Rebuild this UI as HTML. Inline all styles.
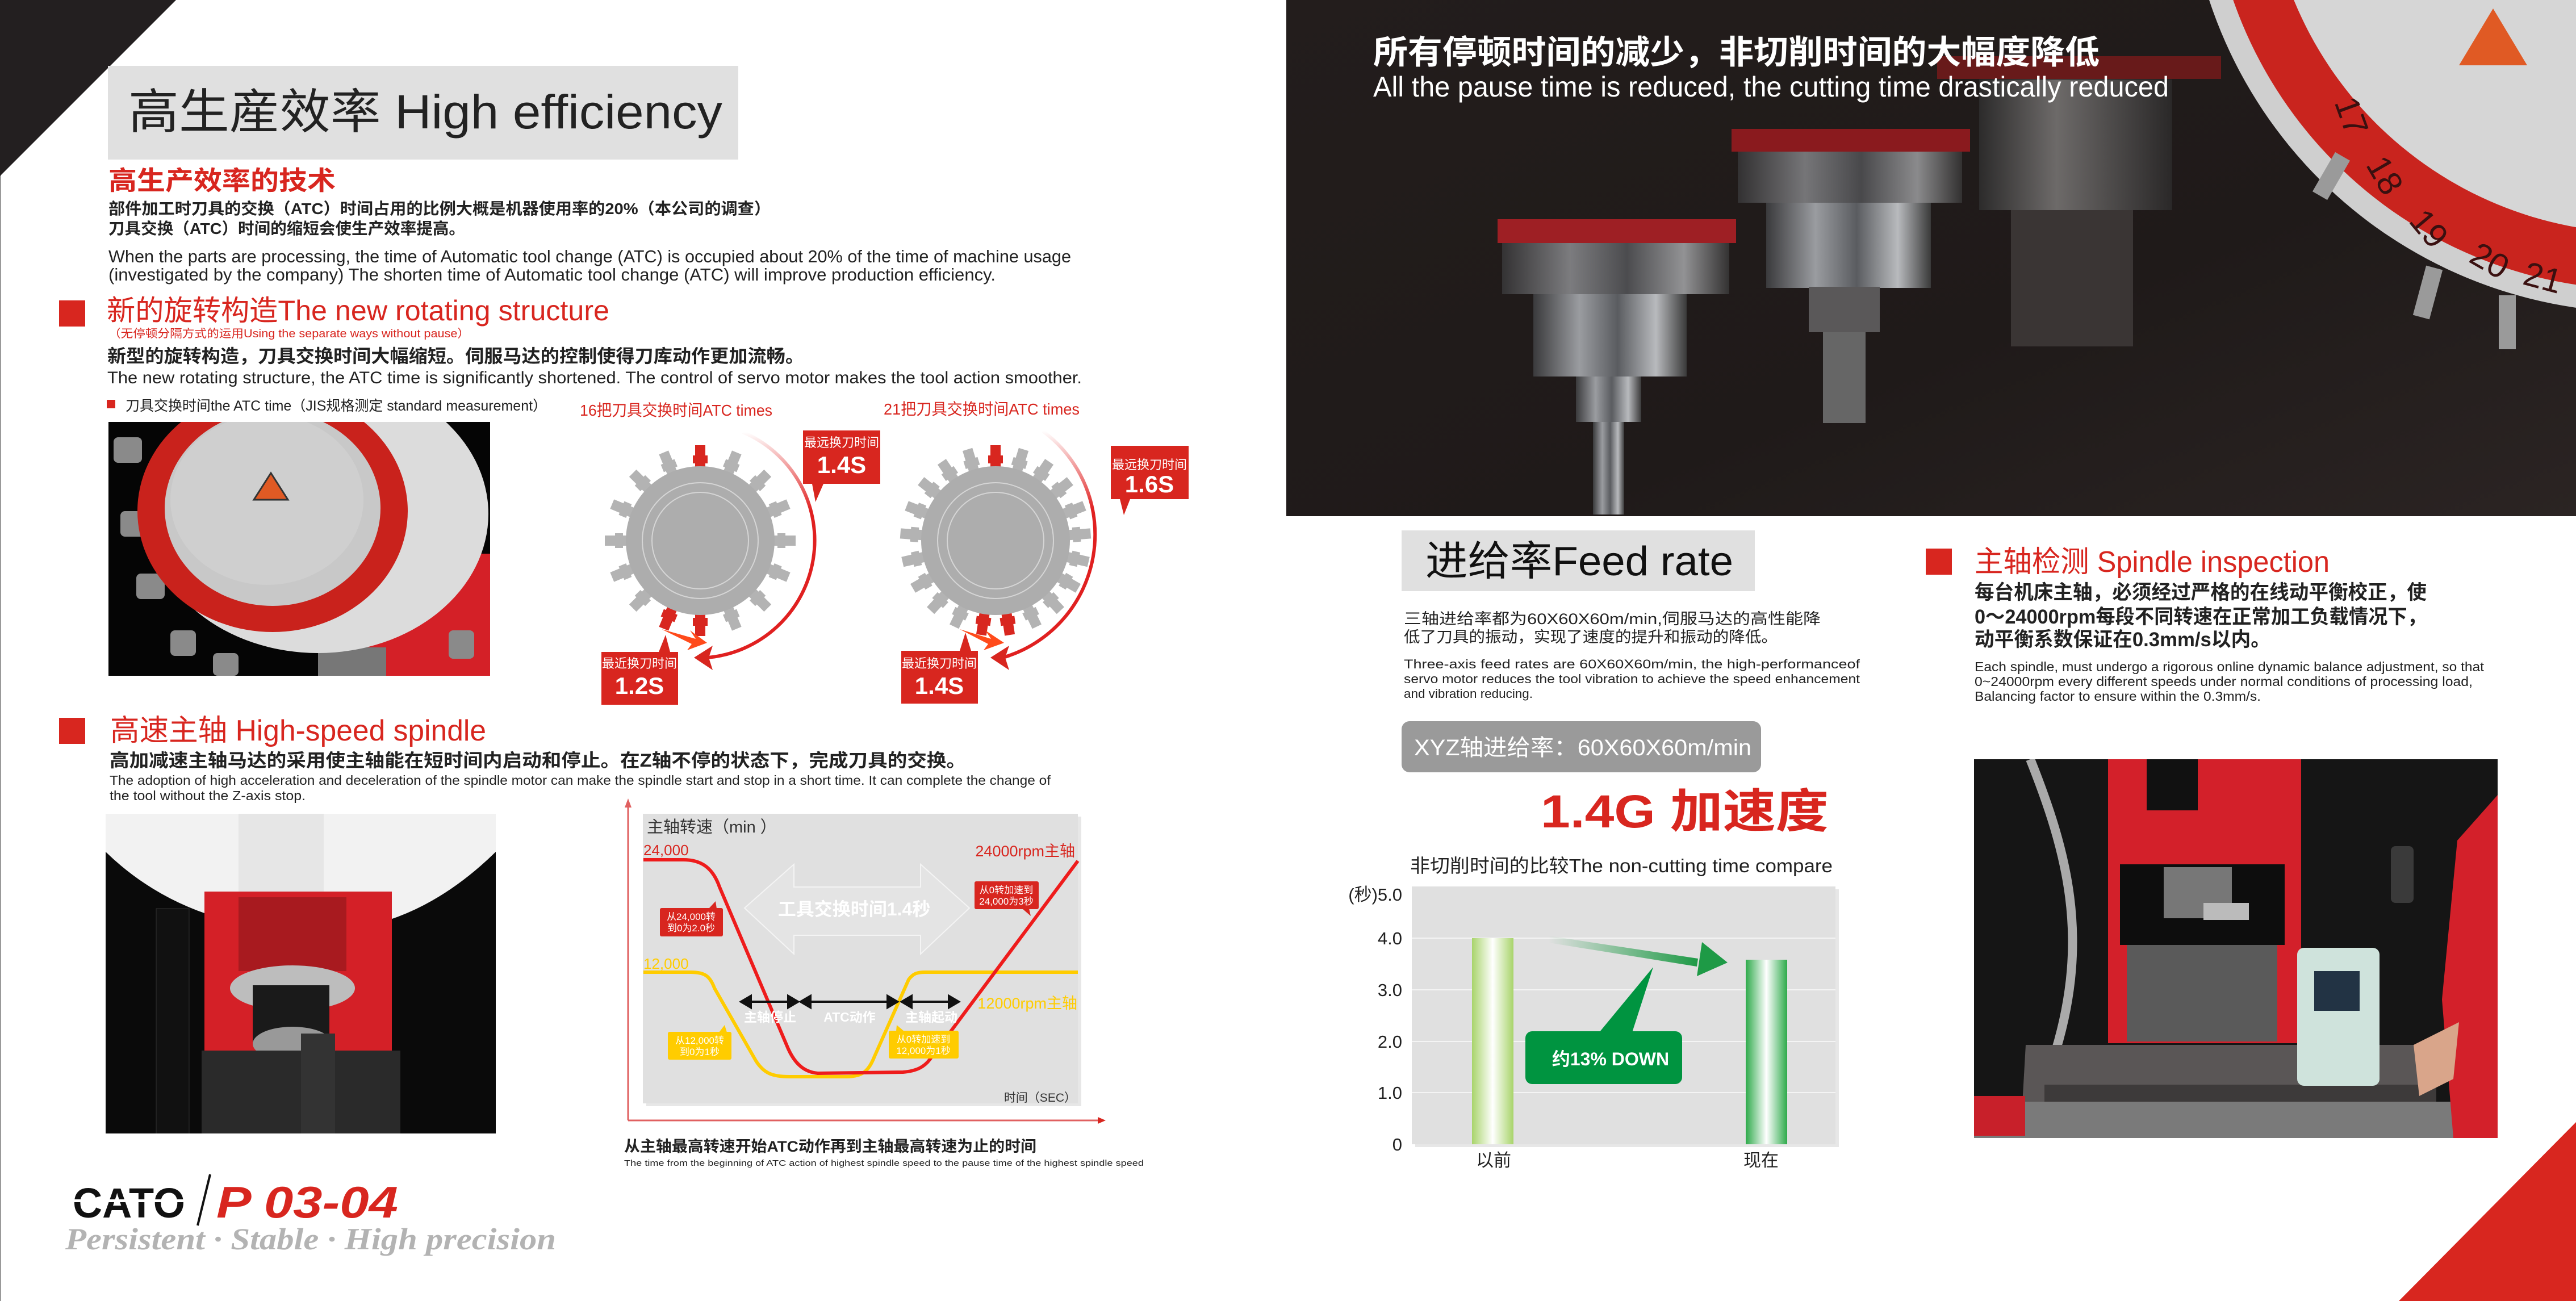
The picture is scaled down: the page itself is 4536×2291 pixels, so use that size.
<!DOCTYPE html>
<html><head><meta charset="utf-8"><style>
html,body{margin:0;padding:0;background:#fff}
svg{display:block}
text{font-family:"Liberation Sans","Noto Sans CJK SC",sans-serif}
</style></head><body>
<svg width="4536" height="2291" viewBox="0 0 4536 2291" xmlns="http://www.w3.org/2000/svg">
<defs>
<linearGradient id="topbg" x1="0" y1="0" x2="1" y2="1"><stop offset="0" stop-color="#231d1c"/><stop offset="0.6" stop-color="#1f1a19"/><stop offset="1" stop-color="#2b2423"/></linearGradient>
<linearGradient id="cyl" x1="0" y1="0" x2="1" y2="0"><stop offset="0" stop-color="#3a3a3c"/><stop offset="0.3" stop-color="#9a9ca0"/><stop offset="0.55" stop-color="#5a5c60"/><stop offset="0.8" stop-color="#b8babd"/><stop offset="1" stop-color="#3a3a3a"/></linearGradient>
<linearGradient id="cyl2" x1="0" y1="0" x2="1" y2="0"><stop offset="0" stop-color="#2c2b2b"/><stop offset="0.4" stop-color="#6d6a69"/><stop offset="1" stop-color="#2a2828"/></linearGradient>
<linearGradient id="bar1" x1="0" y1="0" x2="1" y2="0"><stop offset="0" stop-color="#a8d46a"/><stop offset="0.5" stop-color="#ffffff"/><stop offset="1" stop-color="#a8d46a"/></linearGradient>
<linearGradient id="bar2" x1="0" y1="0" x2="1" y2="0"><stop offset="0" stop-color="#2eaa4a"/><stop offset="0.5" stop-color="#ffffff"/><stop offset="1" stop-color="#2eaa4a"/></linearGradient>
<linearGradient id="garr" x1="0" y1="0" x2="1" y2="0"><stop offset="0" stop-color="#1e9a46" stop-opacity="0"/><stop offset="1" stop-color="#1e9a46"/></linearGradient>
<linearGradient id="fade" x1="0" y1="0" x2="0" y2="1"><stop offset="0" stop-color="#e02020" stop-opacity="0"/><stop offset="0.35" stop-color="#e02020"/></linearGradient>
<g id="tooth"><rect x="-9" y="-168" width="18" height="45" fill="#b3b3b3"/><rect x="-13" y="-150" width="26" height="14" fill="#b3b3b3"/></g>
<g id="toothr"><rect x="-9" y="-168" width="18" height="45" fill="#d8261f"/><rect x="-13" y="-150" width="26" height="14" fill="#d8261f"/></g>
<clipPath id="c1"><rect x="191" y="743" width="672" height="447"/></clipPath>
<clipPath id="c2"><rect x="186" y="1433" width="687" height="563"/></clipPath>
<clipPath id="c3"><rect x="3476" y="1337" width="922" height="667"/></clipPath>
<clipPath id="c4"><rect x="2265" y="0" width="2271" height="909"/></clipPath>
</defs>

<rect x="0" y="0" width="4536" height="2291" fill="#fff"/>
<line x1="1" y1="0" x2="1" y2="2291" stroke="#999" stroke-width="2"/>
<polygon points="0,0 310,0 0,310" fill="#231f20"/>
<polygon points="4536,1976 4536,2291 4224,2291" fill="#d8261f"/>

<rect x="190" y="116" width="1110" height="165" fill="#e0e0e0"/>
<text x="226" y="226" font-size="84" fill="#222" textLength="1046" lengthAdjust="spacingAndGlyphs">高生産效率 High efficiency</text>
<text x="191" y="334" font-size="46" fill="#d8261f" font-weight="bold" textLength="400" lengthAdjust="spacingAndGlyphs">高生产效率的技术</text>
<text x="191" y="377" font-size="28" fill="#222" font-weight="bold" textLength="1166" lengthAdjust="spacingAndGlyphs">部件加工时刀具的交换（ATC）时间占用的比例大概是机器使用率的20%（本公司的调查）</text>
<text x="191" y="412" font-size="28" fill="#222" font-weight="bold" textLength="628" lengthAdjust="spacingAndGlyphs">刀具交换（ATC）时间的缩短会使生产效率提高。</text>
<text x="191" y="462" font-size="31" fill="#222" textLength="1695" lengthAdjust="spacingAndGlyphs">When the parts are processing, the time of Automatic tool change (ATC) is occupied about 20% of the time of machine usage</text>
<text x="191" y="494" font-size="31" fill="#222" textLength="1562" lengthAdjust="spacingAndGlyphs">(investigated by the company) The shorten time of Automatic tool change (ATC) will improve production efficiency.</text>

<rect x="104" y="529" width="46" height="46" fill="#d8261f"/>
<text x="188" y="564" font-size="50" fill="#d8261f" textLength="885" lengthAdjust="spacingAndGlyphs">新的旋转构造The new rotating structure</text>
<text x="191" y="594" font-size="20" fill="#d8261f" textLength="636" lengthAdjust="spacingAndGlyphs">（无停顿分隔方式的运用Using the separate ways without pause）</text>
<text x="189" y="638" font-size="32" fill="#222" font-weight="bold" textLength="1227" lengthAdjust="spacingAndGlyphs">新型的旋转构造，刀具交换时间大幅缩短。伺服马达的控制使得刀库动作更加流畅。</text>
<text x="189" y="675" font-size="30" fill="#222" textLength="1716" lengthAdjust="spacingAndGlyphs">The new rotating structure, the ATC time is significantly shortened. The control of servo motor makes the tool action smoother.</text>
<rect x="188" y="704" width="15" height="15" fill="#d8261f"/>
<text x="221" y="723" font-size="25" fill="#222" textLength="742" lengthAdjust="spacingAndGlyphs">刀具交换时间the ATC time（JIS规格测定 standard measurement）</text>
<text x="1021" y="732" font-size="28" fill="#d8261f" textLength="339" lengthAdjust="spacingAndGlyphs">16把刀具交换时间ATC times</text>
<text x="1556" y="730" font-size="28" fill="#d8261f" textLength="345" lengthAdjust="spacingAndGlyphs">21把刀具交换时间ATC times</text>

<g clip-path="url(#c1)">
<rect x="191" y="743" width="672" height="447" fill="#050505"/>
<rect x="626" y="975" width="240" height="215" fill="#d42027"/>
<rect x="560" y="1140" width="120" height="50" fill="#777"/>
<g fill="#8a8a8a"><rect x="200" y="770" width="50" height="45" rx="8"/><rect x="212" y="900" width="50" height="45" rx="8"/><rect x="240" y="1010" width="50" height="45" rx="8"/><rect x="300" y="1110" width="45" height="45" rx="8"/><rect x="375" y="1150" width="45" height="40" rx="8"/><rect x="790" y="1110" width="45" height="50" rx="8"/></g>
<ellipse cx="560" cy="905" rx="300" ry="245" fill="#dcdcdc"/>
<ellipse cx="480" cy="900" rx="238" ry="213" fill="#c9221c"/>
<ellipse cx="480" cy="895" rx="190" ry="172" fill="#c8c8c8"/>
<ellipse cx="470" cy="880" rx="170" ry="150" fill="#cfcfcf"/>
<polygon points="477,833 447,880 507,880" fill="#e05a24" stroke="#333" stroke-width="3"/>
</g>

<g>
<path d="M1308,761 A207,207 0 0 1 1245,1158" fill="none" stroke="url(#fade)" stroke-width="6"/>
<polygon points="1222,1158 1255,1137 1248,1158 1255,1180" fill="#d8261f"/>
<g transform="translate(1233,952)">
<use href="#toothr"/><use href="#tooth" transform="rotate(22.5)"/><use href="#tooth" transform="rotate(45)"/><use href="#tooth" transform="rotate(67.5)"/><use href="#tooth" transform="rotate(90)"/><use href="#tooth" transform="rotate(112.5)"/><use href="#tooth" transform="rotate(135)"/><use href="#tooth" transform="rotate(157.5)"/><use href="#toothr" transform="rotate(180)"/><use href="#toothr" transform="rotate(202.5)"/><use href="#tooth" transform="rotate(225)"/><use href="#tooth" transform="rotate(247.5)"/><use href="#tooth" transform="rotate(270)"/><use href="#tooth" transform="rotate(292.5)"/><use href="#tooth" transform="rotate(315)"/><use href="#tooth" transform="rotate(337.5)"/>
<circle r="131" fill="#adadad"/><circle r="102" fill="none" stroke="#d5d5d5" stroke-width="2"/><circle r="85" fill="none" stroke="#d5d5d5" stroke-width="2"/>
</g>
<polygon points="1165,1108 1225,1125 1215,1110 1245,1132 1210,1145 1218,1134" fill="#ff4a1a"/>
<rect x="1414" y="758" width="136" height="94" fill="#d8261f"/><polygon points="1430,852 1450,852 1436,884" fill="#d8261f"/>
<text x="1482" y="787" font-size="22" fill="#fff" text-anchor="middle">最远换刀时间</text>
<text x="1482" y="833" font-size="42" fill="#fff" font-weight="bold" text-anchor="middle">1.4S</text>
<rect x="1059" y="1148" width="135" height="93" fill="#d8261f"/><polygon points="1160,1148 1180,1148 1172,1118" fill="#d8261f"/>
<text x="1126" y="1176" font-size="22" fill="#fff" text-anchor="middle">最近换刀时间</text>
<text x="1126" y="1222" font-size="42" fill="#fff" font-weight="bold" text-anchor="middle">1.2S</text>
</g>

<g>
<path d="M1836,759 A226,226 0 0 1 1766,1158" fill="none" stroke="url(#fade)" stroke-width="6"/>
<polygon points="1744,1158 1777,1137 1770,1158 1777,1180" fill="#d8261f"/>
<g transform="translate(1753,952)">
<use href="#toothr"/><use href="#tooth" transform="rotate(17.14)"/><use href="#tooth" transform="rotate(34.3)"/><use href="#tooth" transform="rotate(51.4)"/><use href="#tooth" transform="rotate(68.6)"/><use href="#tooth" transform="rotate(85.7)"/><use href="#tooth" transform="rotate(102.9)"/><use href="#tooth" transform="rotate(120)"/><use href="#tooth" transform="rotate(137.1)"/><use href="#tooth" transform="rotate(154.3)"/><use href="#toothr" transform="rotate(171.4)"/><use href="#toothr" transform="rotate(188.6)"/><use href="#tooth" transform="rotate(205.7)"/><use href="#tooth" transform="rotate(222.9)"/><use href="#tooth" transform="rotate(240)"/><use href="#tooth" transform="rotate(257.1)"/><use href="#tooth" transform="rotate(274.3)"/><use href="#tooth" transform="rotate(291.4)"/><use href="#tooth" transform="rotate(308.6)"/><use href="#tooth" transform="rotate(325.7)"/><use href="#tooth" transform="rotate(342.9)"/>
<circle r="131" fill="#adadad"/><circle r="102" fill="none" stroke="#d5d5d5" stroke-width="2"/><circle r="85" fill="none" stroke="#d5d5d5" stroke-width="2"/>
</g>
<polygon points="1690,1108 1745,1125 1735,1110 1768,1132 1732,1145 1740,1134" fill="#ff4a1a"/>
<rect x="1956" y="785" width="137" height="94" fill="#d8261f"/><polygon points="1972,879 1990,879 1979,907" fill="#d8261f"/>
<text x="2024" y="826" font-size="22" fill="#fff" text-anchor="middle">最远换刀时间</text>
<text x="2024" y="867" font-size="42" fill="#fff" font-weight="bold" text-anchor="middle">1.6S</text>
<rect x="1587" y="1146" width="135" height="93" fill="#d8261f"/><polygon points="1690,1146 1710,1146 1700,1114" fill="#d8261f"/>
<text x="1654" y="1176" font-size="22" fill="#fff" text-anchor="middle">最近换刀时间</text>
<text x="1654" y="1222" font-size="42" fill="#fff" font-weight="bold" text-anchor="middle">1.4S</text>
</g>

<rect x="104" y="1264" width="46" height="46" fill="#d8261f"/>
<text x="194" y="1304" font-size="52" fill="#d8261f" textLength="662" lengthAdjust="spacingAndGlyphs">高速主轴 High-speed spindle</text>
<text x="193" y="1350" font-size="32" fill="#222" font-weight="bold" textLength="1508" lengthAdjust="spacingAndGlyphs">高加减速主轴马达的采用使主轴能在短时间内启动和停止。在Z轴不停的状态下，完成刀具的交换。</text>
<text x="193" y="1382" font-size="23" fill="#222" textLength="1657" lengthAdjust="spacingAndGlyphs">The adoption of high acceleration and deceleration of the spindle motor can make the spindle start and stop in a short time. It can complete the change of</text>
<text x="193" y="1409" font-size="23" fill="#222" textLength="345" lengthAdjust="spacingAndGlyphs">the tool without the Z-axis stop.</text>

<g clip-path="url(#c2)">
<rect x="186" y="1433" width="687" height="563" fill="#0a0a0a"/>
<path d="M186,1433 L186,1500 Q330,1640 560,1640 Q730,1640 873,1500 L873,1433 Z" fill="#f2f2f2"/>
<rect x="420" y="1433" width="150" height="180" fill="#e6e6e6"/>
<rect x="275" y="1600" width="58" height="400" fill="#111" stroke="#333"/>
<polygon points="555,1575 675,1575 690,1850 545,1850" fill="#d42027"/>
<rect x="360" y="1570" width="330" height="280" fill="#d42027"/>
<rect x="420" y="1580" width="190" height="130" fill="#a81a1f"/>
<ellipse cx="515" cy="1740" rx="110" ry="40" fill="#bdbdbd"/>
<rect x="445" y="1735" width="135" height="100" fill="#1a1a1a"/>
<ellipse cx="515" cy="1838" rx="70" ry="30" fill="#999"/>
<rect x="355" y="1850" width="350" height="146" fill="#2a2a2a"/>
<rect x="530" y="1820" width="60" height="180" fill="#333"/>
</g>

<rect x="1138" y="1438" width="766" height="510" fill="#cfcfcf" opacity="0.5"/>
<rect x="1132" y="1433" width="766" height="510" fill="#e0e0e0"/>
<line x1="1106" y1="1420" x2="1106" y2="1973" stroke="#e06060" stroke-width="3"/>
<polygon points="1100,1422 1112,1422 1106,1406" fill="#e06060"/>
<line x1="1106" y1="1973" x2="1935" y2="1973" stroke="#e06060" stroke-width="3"/>
<polygon points="1933,1967 1933,1979 1947,1973" fill="#d8261f"/>
<polygon points="1311,1599 1398,1522 1398,1562 1621,1562 1621,1522 1707,1599 1621,1680 1621,1647 1398,1647 1398,1680" fill="#e4e4e4" stroke="#f4f4f4" stroke-width="2"/>
<text x="1504" y="1612" font-size="32" fill="#fff" font-weight="bold" text-anchor="middle">工具交换时间1.4秒</text>
<path d="M1133,1712 L1216,1712 C1240,1712 1250,1718 1258,1740 L1331,1868 C1345,1890 1360,1896 1390,1896 L1490,1896 C1520,1896 1530,1885 1540,1860 L1600,1725 C1608,1714 1615,1712 1630,1712 L1898,1712" fill="none" stroke="#ffcc00" stroke-width="6"/>
<path d="M1133,1514 L1203,1514 C1235,1514 1255,1528 1267,1562 L1388,1847 C1402,1878 1420,1888 1440,1890 L1590,1888 C1615,1886 1628,1878 1637,1866 L1898,1516" fill="none" stroke="#ee1c1c" stroke-width="6"/>
<text x="1139" y="1466" font-size="29" fill="#333">主轴转速（min ）</text>
<text x="1133" y="1506" font-size="26" fill="#d8261f">24,000</text>
<text x="1133" y="1706" font-size="26" fill="#ffcc00">12,000</text>
<text x="1893" y="1508" font-size="27" fill="#d8261f" text-anchor="end">24000rpm主轴</text>
<text x="1897" y="1776" font-size="27" fill="#ffcc00" text-anchor="end">12000rpm主轴</text>
<g stroke="#111" stroke-width="4" fill="#111">
<line x1="1315" y1="1764" x2="1395" y2="1764"/><polygon points="1305,1764 1322,1754 1322,1774"/><polygon points="1405,1764 1388,1754 1388,1774"/>
<line x1="1420" y1="1764" x2="1570" y2="1764"/><polygon points="1410,1764 1427,1754 1427,1774"/><polygon points="1580,1764 1563,1754 1563,1774"/>
<line x1="1598" y1="1764" x2="1678" y2="1764"/><polygon points="1588,1764 1605,1754 1605,1774"/><polygon points="1688,1764 1671,1754 1671,1774"/>
</g>
<g font-size="23" fill="#fff" font-weight="bold" text-anchor="middle"><text x="1356" y="1799">主轴停止</text><text x="1496" y="1799">ATC动作</text><text x="1640" y="1799">主轴起动</text></g>
<rect x="1162" y="1599" width="111" height="50" rx="3" fill="#d8261f"/><polygon points="1248,1600 1262,1600 1260,1587" fill="#d8261f"/>
<text x="1217" y="1620" font-size="17" fill="#fff" text-anchor="middle">从24,000转</text><text x="1217" y="1640" font-size="17" fill="#fff" text-anchor="middle">到0为2.0秒</text>
<rect x="1716" y="1552" width="113" height="49" rx="3" fill="#d8261f"/><polygon points="1800,1600 1812,1600 1815,1613" fill="#d8261f"/>
<text x="1772" y="1573" font-size="17" fill="#fff" text-anchor="middle">从0转加速到</text><text x="1772" y="1593" font-size="17" fill="#fff" text-anchor="middle">24,000为3秒</text>
<rect x="1176" y="1817" width="112" height="49" rx="3" fill="#ffcc00"/><polygon points="1266,1818 1280,1818 1276,1805" fill="#ffcc00"/>
<text x="1232" y="1838" font-size="17" fill="#fff" text-anchor="middle">从12,000转</text><text x="1232" y="1858" font-size="17" fill="#fff" text-anchor="middle">到0为1秒</text>
<rect x="1565" y="1815" width="123" height="49" rx="3" fill="#ffcc00"/><polygon points="1578,1816 1592,1816 1579,1805" fill="#ffcc00"/>
<text x="1626" y="1836" font-size="17" fill="#fff" text-anchor="middle">从0转加速到</text><text x="1626" y="1856" font-size="17" fill="#fff" text-anchor="middle">12,000为1秒</text>
<text x="1895" y="1940" font-size="21" fill="#333" text-anchor="end">时间（SEC）</text>
<text x="1099" y="2028" font-size="27" fill="#222" font-weight="bold" textLength="726" lengthAdjust="spacingAndGlyphs">从主轴最高转速开始ATC动作再到主轴最高转速为止的时间</text>
<text x="1099" y="2053" font-size="15" fill="#222" textLength="915" lengthAdjust="spacingAndGlyphs">The time from the beginning of ATC action of highest spindle speed to the pause time of the highest spindle speed</text>

<text x="128" y="2144" font-size="74" font-weight="900" fill="#111" textLength="198" lengthAdjust="spacingAndGlyphs">CATO</text>
<rect x="130" y="2112" width="196" height="5" fill="#fff"/>
<line x1="370" y1="2068" x2="348" y2="2158" stroke="#111" stroke-width="4"/>
<text x="381" y="2144" font-size="78" font-style="italic" font-weight="bold" fill="#d8261f" textLength="320" lengthAdjust="spacingAndGlyphs">P 03-04</text>
<text x="115" y="2200" font-size="54" font-style="italic" font-weight="bold" fill="#b3b3b3" style="font-family:'Liberation Serif',serif" textLength="864" lengthAdjust="spacingAndGlyphs">Persistent · Stable · High precision</text>

<g clip-path="url(#c4)">
<rect x="2265" y="0" width="2271" height="909" fill="url(#topbg)"/>
<circle cx="4650" cy="-250" r="800" fill="#cfcfcf"/>
<circle cx="4650" cy="-250" r="760" fill="#c9241e"/>
<circle cx="4650" cy="-250" r="660" fill="#d6d6d6"/>
<g fill="#9a9a9a"><rect x="4090" y="270" width="30" height="80" transform="rotate(30 4105 310)"/><rect x="4260" y="470" width="30" height="90" transform="rotate(15 4275 515)"/><rect x="4400" y="520" width="30" height="95"/></g>
<g font-size="60" fill="#3a1010"><text x="4110" y="180" transform="rotate(70 4110 180)">17</text><text x="4165" y="290" transform="rotate(60 4165 290)">18</text><text x="4240" y="390" transform="rotate(50 4240 390)">19</text><text x="4345" y="460" transform="rotate(30 4345 460)">20</text><text x="4440" y="500" transform="rotate(15 4440 500)">21</text></g>
<polygon points="4390,15 4330,115 4450,115" fill="#e05a24"/>
<rect x="3411" y="99" width="500" height="40" fill="#7a1a1a" opacity="0.8"/>
<rect x="3485" y="140" width="340" height="230" fill="url(#cyl2)"/>
<rect x="3541" y="370" width="215" height="240" fill="#3a3534"/>
<rect x="3049" y="227" width="420" height="40" fill="#8a1a1e"/>
<rect x="3060" y="267" width="395" height="90" fill="url(#cyl)" opacity="0.7"/>
<rect x="3110" y="357" width="290" height="150" fill="url(#cyl)"/>
<rect x="3185" y="505" width="125" height="80" fill="#5a5859"/>
<rect x="3210" y="585" width="75" height="160" fill="#666"/>
<rect x="2637" y="386" width="420" height="42" fill="#9e1f24"/>
<rect x="2645" y="428" width="400" height="90" fill="url(#cyl)" opacity="0.75"/>
<rect x="2700" y="518" width="270" height="145" fill="url(#cyl)"/>
<rect x="2775" y="663" width="115" height="80" fill="url(#cyl)"/>
<rect x="2805" y="743" width="55" height="163" fill="url(#cyl)"/>
<text x="2418" y="112" font-size="58" fill="#fff" font-weight="bold" textLength="1279" lengthAdjust="spacingAndGlyphs">所有停顿时间的减少，非切削时间的大幅度降低</text>
<text x="2418" y="170" font-size="50" fill="#fff" textLength="1401" lengthAdjust="spacingAndGlyphs">All the pause time is reduced, the cutting time drastically reduced</text>
</g>

<rect x="2468" y="934" width="622" height="107" fill="#e0e0e0"/>
<text x="2510" y="1013" font-size="72" fill="#111" textLength="542" lengthAdjust="spacingAndGlyphs">进给率Feed rate</text>
<text x="2472" y="1099" font-size="27" fill="#222" textLength="734" lengthAdjust="spacingAndGlyphs">三轴进给率都为60X60X60m/min,伺服马达的高性能降</text>
<text x="2472" y="1131" font-size="27" fill="#222" textLength="658" lengthAdjust="spacingAndGlyphs">低了刀具的振动，实现了速度的提升和振动的降低。</text>
<text x="2472" y="1177" font-size="22" fill="#222" textLength="803" lengthAdjust="spacingAndGlyphs">Three-axis feed rates are 60X60X60m/min, the high-performanceof</text>
<text x="2472" y="1203" font-size="22" fill="#222" textLength="803" lengthAdjust="spacingAndGlyphs">servo motor reduces the tool vibration to achieve the speed enhancement</text>
<text x="2472" y="1229" font-size="22" fill="#222" textLength="227" lengthAdjust="spacingAndGlyphs">and vibration reducing.</text>
<rect x="2468" y="1270" width="633" height="90" rx="14" fill="#9a9a9a"/>
<text x="2490" y="1330" font-size="40" fill="#fff" textLength="594" lengthAdjust="spacingAndGlyphs">XYZ轴进给率：60X60X60m/min</text>
<text x="2713" y="1457" font-size="82" fill="#d8261f" font-weight="bold" textLength="507" lengthAdjust="spacingAndGlyphs">1.4G 加速度</text>
<text x="2483" y="1536" font-size="33" fill="#222" textLength="744" lengthAdjust="spacingAndGlyphs">非切削时间的比较The non-cutting time compare</text>

<rect x="2492" y="1566" width="746" height="454" fill="#d0d0d0" opacity="0.5"/>
<rect x="2486" y="1561" width="746" height="454" fill="#e0e0e0"/>
<g stroke="#f4f4f4" stroke-width="2"><line x1="2486" y1="1652" x2="3232" y2="1652"/><line x1="2486" y1="1743" x2="3232" y2="1743"/><line x1="2486" y1="1834" x2="3232" y2="1834"/><line x1="2486" y1="1924" x2="3232" y2="1924"/></g>
<g font-size="31" fill="#222" text-anchor="end"><text x="2469" y="1586">(秒)5.0</text><text x="2469" y="1663">4.0</text><text x="2469" y="1754">3.0</text><text x="2469" y="1845">2.0</text><text x="2469" y="1935">1.0</text><text x="2469" y="2026">0</text></g>
<rect x="2592" y="1652" width="73" height="363" fill="url(#bar1)"/>
<rect x="3074" y="1690" width="73" height="325" fill="url(#bar2)"/>
<polygon points="2727,1648 2990,1688 2988,1702 2727,1660" fill="url(#garr)"/>
<polygon points="2997,1659 3042,1695 2988,1719" fill="#1e9a46"/>
<rect x="2686" y="1816" width="276" height="93" rx="12" fill="#009440"/>
<polygon points="2816,1818 2874,1818 2911,1703" fill="#009440"/>
<text x="2836" y="1876" font-size="32" fill="#fff" font-weight="bold" text-anchor="middle">约13% DOWN</text>
<g font-size="31" fill="#222" text-anchor="middle"><text x="2630" y="2054">以前</text><text x="3101" y="2054">现在</text></g>

<rect x="3391" y="966" width="46" height="46" fill="#d8261f"/>
<text x="3477" y="1007" font-size="52" fill="#d8261f" textLength="625" lengthAdjust="spacingAndGlyphs">主轴检测 Spindle inspection</text>
<text x="3477" y="1055" font-size="35" fill="#222" font-weight="bold" textLength="796" lengthAdjust="spacingAndGlyphs">每台机床主轴，必须经过严格的在线动平衡校正，使</text>
<text x="3477" y="1098" font-size="35" fill="#222" font-weight="bold" textLength="796" lengthAdjust="spacingAndGlyphs">0～24000rpm每段不同转速在正常加工负载情况下，</text>
<text x="3477" y="1138" font-size="35" fill="#222" font-weight="bold" textLength="521" lengthAdjust="spacingAndGlyphs">动平衡系数保证在0.3mm/s以内。</text>
<text x="3477" y="1182" font-size="23" fill="#222" textLength="897" lengthAdjust="spacingAndGlyphs">Each spindle, must undergo a rigorous online dynamic balance adjustment, so that</text>
<text x="3477" y="1208" font-size="23" fill="#222" textLength="877" lengthAdjust="spacingAndGlyphs">0~24000rpm every different speeds under normal conditions of processing load,</text>
<text x="3477" y="1234" font-size="23" fill="#222" textLength="504" lengthAdjust="spacingAndGlyphs">Balancing factor to ensure within the 0.3mm/s.</text>

<g clip-path="url(#c3)">
<rect x="3476" y="1337" width="922" height="667" fill="#151515"/>
<path d="M3575,1337 C3640,1500 3680,1650 3620,1850" fill="none" stroke="#aaa" stroke-width="16"/>
<rect x="3712" y="1337" width="340" height="500" fill="#d3202a"/>
<rect x="3780" y="1337" width="90" height="90" fill="#111"/>
<rect x="3733" y="1522" width="290" height="142" fill="#0d0d0d"/>
<rect x="3810" y="1527" width="120" height="90" fill="#777"/>
<rect x="3745" y="1664" width="265" height="170" fill="#5a5a5a"/>
<rect x="3880" y="1590" width="80" height="30" fill="#bbb"/>
<polygon points="3567,1840 4284,1840 4290,1963 3560,1963" fill="#5a5656"/>
<rect x="3600" y="1910" width="690" height="50" fill="#3d3a3a"/>
<rect x="3476" y="1940" width="922" height="64" fill="#7a7a7a"/>
<rect x="3476" y="1930" width="90" height="70" fill="#c8202a"/>
<rect x="4045" y="1669" width="145" height="243" rx="12" fill="#cfe3dc"/>
<rect x="4075" y="1710" width="80" height="70" fill="#234"/>
<rect x="4210" y="1490" width="40" height="100" rx="8" fill="#3a3a3a"/>
<polygon points="4327,1480 4398,1400 4398,2004 4320,2004 4300,1760" fill="#d3202a"/>
<polygon points="4250,1840 4330,1800 4320,1900 4260,1930" fill="#d9a58a"/>
</g>
</svg>
</body></html>
